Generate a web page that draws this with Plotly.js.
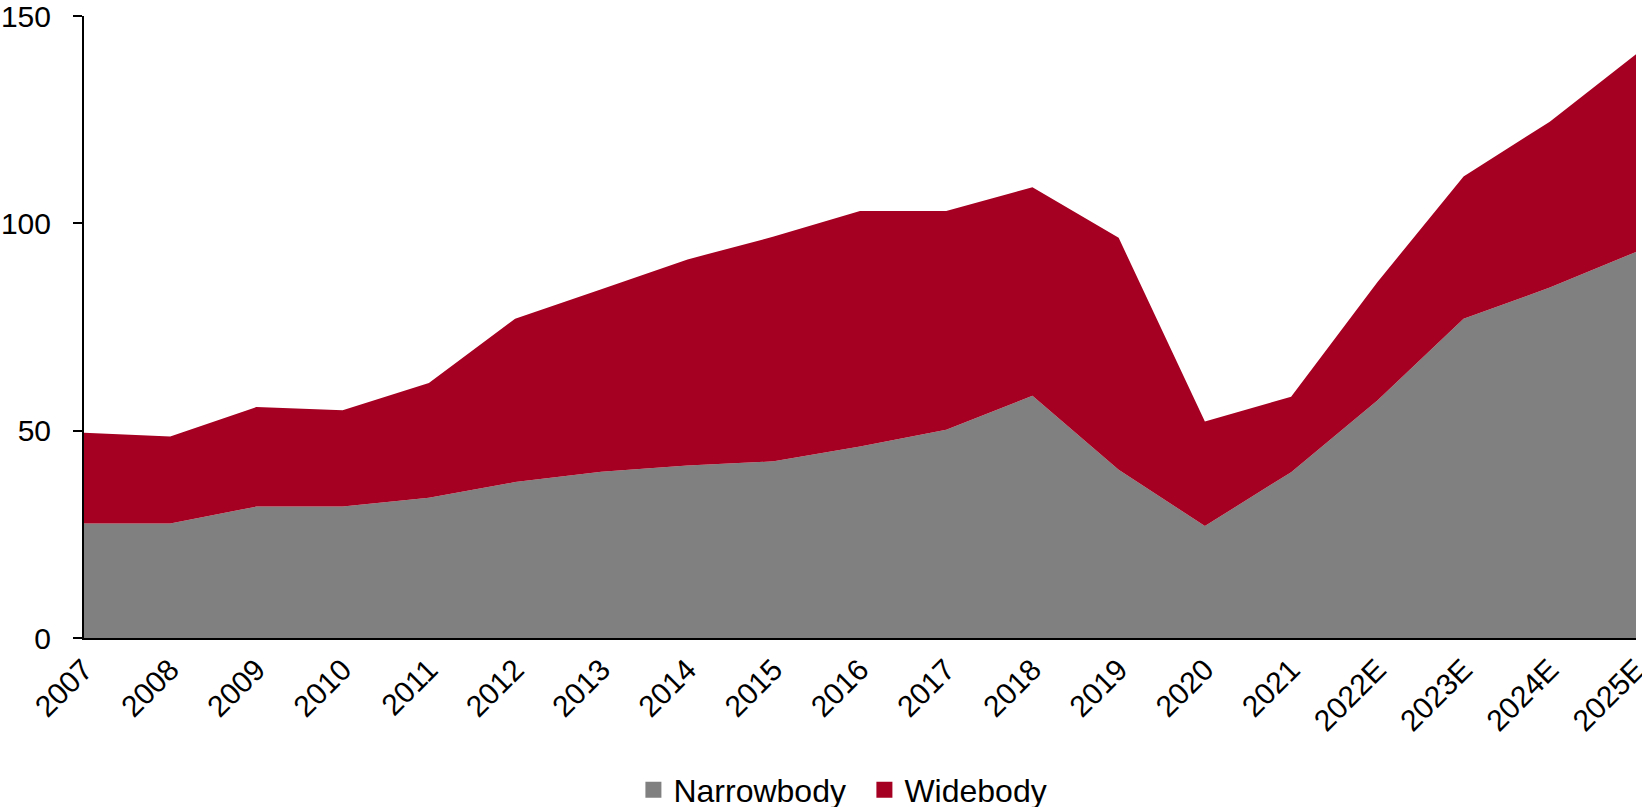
<!DOCTYPE html>
<html>
<head>
<meta charset="utf-8">
<script src="https://cdn.plot.ly/plotly-3.0.1.min.js"></script>
<style>html,body{margin:0;padding:0;background:#fff;}#chart{width:1642px;height:807px;}</style>
</head>
<body>
<div id="chart"></div>
<script>
const years = ["2007","2008","2009","2010","2011","2012","2013","2014","2015","2016","2017","2018","2019","2020","2021","2022E","2023E","2024E","2025E"];
const narrowbody = [27.6, 27.6, 31.7, 31.7, 33.8, 37.6, 40.1, 41.6, 42.6, 46.2, 50.2, 58.4, 40.6, 27.0, 40.0, 57.3, 77.0, 84.5, 93.1];
const widebody = [21.9, 21.0, 24.0, 23.2, 27.7, 39.4, 44.0, 49.7, 54.2, 56.8, 52.8, 50.3, 55.9, 25.2, 18.2, 28.5, 34.3, 40.0, 47.7];
const yTicks = [0, 50, 100, 150];

const grey = "#808080";
const red = "#A50021";
const family = "Liberation Sans, Arial, sans-serif";
const axisFont = {family: family, size: 30, color: "#000"};
const legendFont = {family: family, size: 32, color: "#000"};

const traces = [
  {x: years, y: narrowbody, type: "scatter", mode: "lines", stackgroup: "one",
   line: {width: 0, color: grey}, fillcolor: grey, name: "Narrowbody", showlegend: false, hoverinfo: "x+y"},
  {x: years, y: widebody, type: "scatter", mode: "lines", stackgroup: "one",
   line: {width: 0, color: red}, fillcolor: red, name: "Widebody", showlegend: false, hoverinfo: "x+y"},
  {x: [years[0]], y: [null], type: "scatter", mode: "markers", name: "Narrowbody",
   marker: {symbol: "square", size: 16, color: grey}, showlegend: true},
  {x: [years[0]], y: [null], type: "scatter", mode: "markers", name: "Widebody",
   marker: {symbol: "square", size: 16, color: red}, showlegend: true}
];

const layout = {
  width: 1642, height: 807,
  margin: {l: 84, r: 6, t: 16, b: 169, autoexpand: false},
  paper_bgcolor: "#fff", plot_bgcolor: "#fff",
  font: legendFont,
  showlegend: true,
  legend: {orientation: "h", traceorder: "normal", x: 0.354, xanchor: "left",
           yref: "container", y: 0.021, yanchor: "middle", entrywidth: 186,
           font: legendFont, itemwidth: 30, tracegroupgap: 0, bgcolor: "rgba(0,0,0,0)"},
  xaxis: {type: "category", range: [0, years.length - 1], showgrid: false, zeroline: false,
          showline: true, linecolor: "#000", linewidth: 2, ticks: "", tickangle: -45,
          tickfont: axisFont, automargin: false, ticklabeloverflow: "allow"},
  yaxis: {range: [0, 150], tickvals: yTicks, ticktext: yTicks.map(String), showgrid: false, zeroline: false,
          showline: true, linecolor: "#000", linewidth: 2, ticks: "outside", ticklen: 9, tickwidth: 2,
          tickcolor: "#000", tickfont: axisFont, automargin: false, ticklabelstandoff: 16,
          ticklabeloverflow: "allow"}
};

Plotly.newPlot("chart", traces, layout, {displayModeBar: false, staticPlot: true});
</script>
</body>
</html>
